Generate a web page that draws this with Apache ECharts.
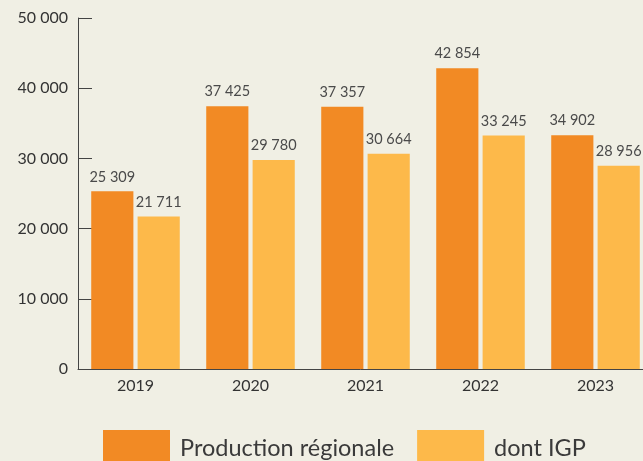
<!DOCTYPE html>
<html>
<head>
<meta charset="utf-8">
<script src="https://cdn.jsdelivr.net/npm/echarts@6/dist/echarts.min.js"></script>
<style>
  html, body { margin: 0; padding: 0; background: #f0efe4; }
  #chart { width: 643px; height: 461px; }
</style>
</head>
<body>
<div id="chart"></div>
<script>
const years = ["2019", "2020", "2021", "2022", "2023"];
// bar heights as drawn (2023 bar is drawn lower than its label says)
const prodValues = [25309, 37425, 37357, 42854, 33300];
const prodLabels = ["25 309", "37 425", "37 357", "42 854", "34 902"];
const igpValues = [21711, 29780, 30664, 33245, 28956];
const igpLabels = ["21 711", "29 780", "30 664", "33 245", "28 956"];
const yTicks = [0, 10000, 20000, 30000, 40000, 50000];

const font = "Lato, 'Noto Sans', sans-serif";

function fmt(v) {
  return String(v).replace(/\B(?=(\d{3})+(?!\d))/g, " ");
}

const chart = echarts.init(document.getElementById("chart"));
chart.setOption({
  backgroundColor: "#f0efe4",
  animation: false,
  color: ["#f28a24", "#fdb94a"],
  grid: { left: 78, width: 575, top: 18, height: 351, outerBoundsMode: "none" },
  legend: {
    left: 103,
    top: 430,
    padding: 0,
    itemWidth: 67,
    itemHeight: 36,
    itemGap: 23,
    icon: "rect",
    textStyle: { fontFamily: font, fontSize: 23.5, color: "#3a3a3a", padding: [0, 0, 0, 5] },
    data: ["Production régionale", "dont IGP"],
  },
  xAxis: {
    type: "category",
    data: years,
    axisLine: { lineStyle: { color: "#444", width: 1 } },
    axisTick: { inside: true, length: 8, lineStyle: { color: "#444" } },
    axisLabel: { fontFamily: font, fontSize: 16, color: "#333", margin: 9 },
  },
  yAxis: {
    type: "value",
    min: yTicks[0],
    max: yTicks[yTicks.length - 1],
    interval: 10000,
    axisLine: { show: true, lineStyle: { color: "#444", width: 1 } },
    axisTick: { show: true, inside: true, length: 14, lineStyle: { color: "#444" } },
    splitLine: { show: false },
    axisLabel: { fontFamily: font, fontSize: 16, color: "#333", margin: 10, formatter: fmt },
  },
  series: [
    {
      name: "Production régionale",
      type: "bar",
      data: prodValues,
      barCategoryGap: "23%",
      barGap: "10%",
      label: {
        show: true,
        position: "top",
        distance: 7,
        fontFamily: font,
        fontSize: 14.5,
        color: "#4a4a4a",
        formatter: (p) => prodLabels[p.dataIndex],
      },
    },
    {
      name: "dont IGP",
      type: "bar",
      data: igpValues,
      barCategoryGap: "23%",
      barGap: "10%",
      label: {
        show: true,
        position: "top",
        distance: 7,
        fontFamily: font,
        fontSize: 14.5,
        color: "#4a4a4a",
        formatter: (p) => igpLabels[p.dataIndex],
      },
    },
  ],
});
</script>
</body>
</html>
